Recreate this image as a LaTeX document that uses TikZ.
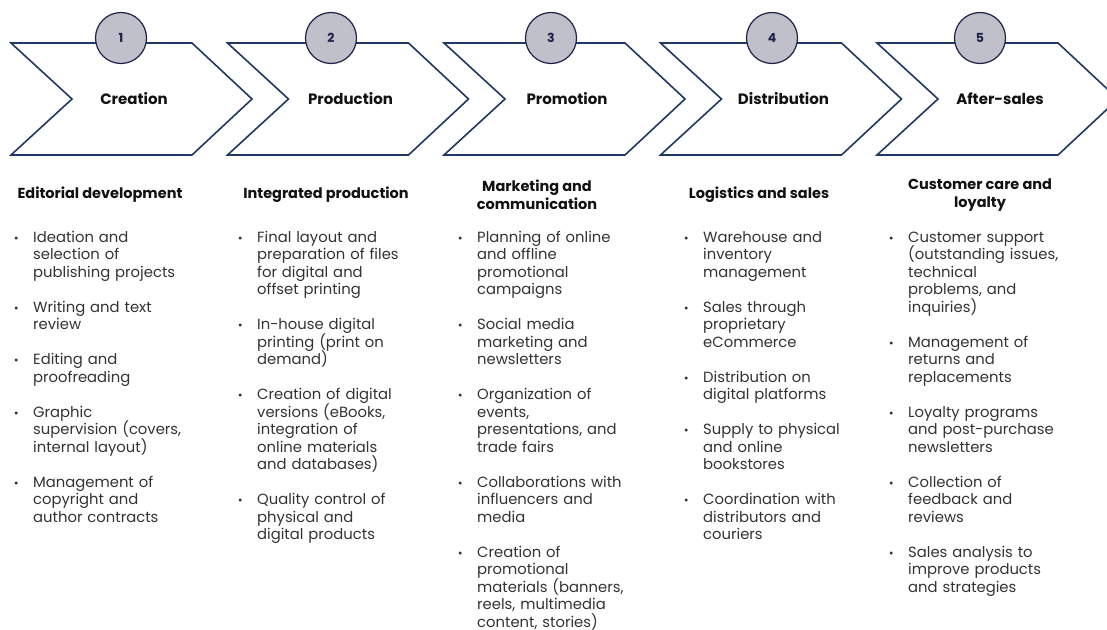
\documentclass[tikz,border=0pt]{standalone}
\usepackage{fontspec}
\setmainfont{Poppins}
\definecolor{navy}{HTML}{203864}
\definecolor{dotfill}{HTML}{BFC0C9}
\definecolor{dotline}{HTML}{1E2148}
\definecolor{bodygray}{HTML}{333333}
\definecolor{headblack}{HTML}{111111}
% bullet hanging to the left of an item's first line
\newcommand\bl{\leavevmode\rule{0pt}{12.5pt}\llap{\scalebox{0.8}{\textbullet}\hspace{14.5pt}}}
% fixed line pitch, whatever the glyphs on a line
\newcommand\evenlines{\lineskiplimit=-20pt\lineskip=0pt}
\begin{document}
\begin{tikzpicture}[x=1pt,y=-1pt,
  chev/.style={draw=navy, line width=1.6pt, fill=white, line join=miter},
  badge/.style={circle, draw=dotline, line width=1.2pt, fill=dotfill, minimum size=51pt,
    inner sep=0pt, font=\fontsize{12.5}{14}\selectfont\bfseries, text=dotline},
  stagename/.style={font=\fontsize{15}{17}\selectfont\bfseries, text=headblack},
  colhead/.style={align=center, font=\fontsize{14.5}{18}\selectfont\bfseries\evenlines, text=headblack, inner sep=0pt},
  bodytext/.style={anchor=north west, inner sep=0pt, text width=185pt, align=left,
    font=\fontsize{14.8}{17.5}\selectfont\evenlines, text=bodygray}]
\useasboundingbox (0,0) rectangle (1107,629);
\fill[white] (0,0) rectangle (1107,629);

% chevrons, stage names and numbered badges
\foreach \i/\cx/\lbl in {0/121/Creation,1/331/Production,2/551/Promotion,3/772/Distribution,4/980/After-sales} {
  \pgfmathsetmacro\L{11+216.5*\i}
  \draw[chev] (\L,43) -- ++(181,0) -- ++(60,56) -- ++(-60,56) -- ++(-181,0) -- ++(61,-56) -- cycle;
  \node[stagename] (stage\i) at (\L+123,99) {\lbl};
  \pgfmathtruncatemacro\n{\i+1}
  \node[badge] (num\i) at (\cx,38) {\n};
}

% column headings
\node[colhead] (head1) at (100,195) {Editorial development};
\node[colhead] (head2) at (326,195) {Integrated production};
\node[colhead] (head3) at (537,195) {Marketing and\\communication};
\node[colhead] (head4) at (759,195) {Logistics and sales};
\node[colhead] (head5) at (980,195) {Customer care and\\loyalty};

% activity lists
\node[bodytext] (list1) at (33,229.5) {%
\bl Ideation and\\ selection of\\ publishing projects\\[17.5pt]
\bl Writing and text\\ review\\[17.5pt]
\bl Editing and\\ proofreading\\[17.5pt]
\bl Graphic\\ supervision (covers,\\ internal layout)\\[17.5pt]
\bl Management of\\ copyright and\\ author contracts};

\node[bodytext] (list2) at (257,229.5) {%
\bl Final layout and\\ preparation of files\\ for digital and\\ offset printing\\[17.5pt]
\bl In-house digital\\ printing (print on\\ demand)\\[17.5pt]
\bl Creation of digital\\ versions (eBooks,\\ integration of\\ online materials\\ and databases)\\[17.5pt]
\bl Quality control of\\ physical and\\ digital products};

\node[bodytext] (list3) at (477,229.5) {%
\bl Planning of online\\ and offline\\ promotional\\ campaigns\\[17.5pt]
\bl Social media\\ marketing and\\ newsletters\\[17.5pt]
\bl Organization of\\ events,\\ presentations, and\\ trade fairs\\[17.5pt]
\bl Collaborations with\\ influencers and\\ media\\[17.5pt]
\bl Creation of\\ promotional\\ materials (banners,\\ reels, multimedia\\ content, stories)};

\node[bodytext] (list4) at (703,229.5) {%
\bl Warehouse and\\ inventory\\ management\\[17.5pt]
\bl Sales through\\ proprietary\\ eCommerce\\[17.5pt]
\bl Distribution on\\ digital platforms\\[17.5pt]
\bl Supply to physical\\ and online\\ bookstores\\[17.5pt]
\bl Coordination with\\ distributors and\\ couriers};

\node[bodytext] (list5) at (908,229.5) {%
\bl Customer support\\ (outstanding issues,\\ technical\\ problems, and\\ inquiries)\\[17.5pt]
\bl Management of\\ returns and\\ replacements\\[17.5pt]
\bl Loyalty programs\\ and post-purchase\\ newsletters\\[17.5pt]
\bl Collection of\\ feedback and\\ reviews\\[17.5pt]
\bl Sales analysis to\\ improve products\\ and strategies};
\end{tikzpicture}
\end{document}
